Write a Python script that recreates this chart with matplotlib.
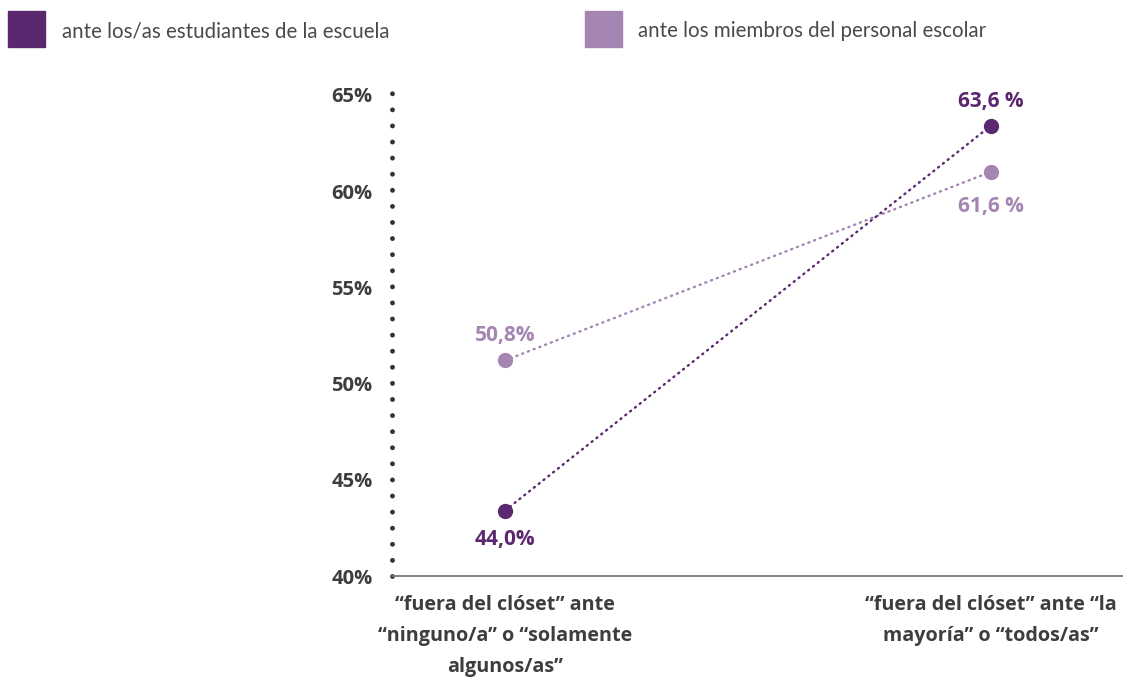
import matplotlib
matplotlib.use('Agg')

import matplotlib.pyplot as plt
from matplotlib.patches import Rectangle

# data
categories = ['\u201cfuera del cl\u00f3set\u201d ante\n\u201cninguno/a\u201d o \u201csolamente\nalgunos/as\u201d',
              '\u201cfuera del cl\u00f3set\u201d ante \u201cla\nmayor\u00eda\u201d o \u201ctodos/as\u201d']
series_names = ['ante los/as estudiantes de la escuela',
                'ante los miembros del personal escolar']
estudiantes = [43.4, 63.4]
personal = [51.2, 61.0]
labels_estudiantes = ['44,0%', '63,6 %']
labels_personal = ['50,8%', '61,6 %']
yticks = [40, 45, 50, 55, 60, 65]

dark = '#5b2870'
light = '#a585b1'
grey = '#3d3d3d'
num_font = 'Open Sans'

W, H = 1123, 687
fig = plt.figure(figsize=(W / 100, H / 100), dpi=100)
# axes box in pixels: x 392..1123, y 90..576
ax = fig.add_axes([392 / W, 1 - 576 / H, (W - 392) / W, (576 - 90) / H])

x = [0, 1]
ax.plot(x, personal, color=light, lw=1.7, ls=(0, (0.5, 2.1)), dash_capstyle='round',
        marker='o', ms=11, markeredgewidth=0, zorder=3)
ax.plot(x, estudiantes, color=dark, lw=1.7, ls=(0, (0.5, 2.1)), dash_capstyle='round',
        marker='o', ms=11, markeredgewidth=0, zorder=4)

# value labels
lab_kw = dict(textcoords='offset points', ha='center', va='center', fontsize=15,
              fontweight='bold', family=num_font)
ax.annotate(labels_personal[0], (x[0], personal[0]), xytext=(0, 18), color=light, **lab_kw)
ax.annotate(labels_estudiantes[0], (x[0], estudiantes[0]), xytext=(0, -21), color=dark, **lab_kw)
ax.annotate(labels_estudiantes[1], (x[1], estudiantes[1]), xytext=(0, 17), color=dark, **lab_kw)
ax.annotate(labels_personal[1], (x[1], personal[1]), xytext=(0, -25), color=light, **lab_kw)

ax.set_xlim(-0.2325, 1.2716)
ax.set_ylim(40, 65.25)
ax.set_yticks(yticks)
ax.set_yticklabels(['%d%%' % t for t in yticks], family=num_font, fontweight='bold',
                   fontsize=14.5, color=grey)
ax.tick_params(axis='y', length=0, pad=14)
ax.set_xticks(x)
ax.set_xticklabels(categories, family=num_font, fontweight='bold', fontsize=14.2,
                   color=grey, linespacing=1.72)
ax.tick_params(axis='x', length=0, pad=14)

for s in ['top', 'right']:
    ax.spines[s].set_visible(False)
ax.spines['bottom'].set_color('#777777')
ax.spines['bottom'].set_linewidth(1.3)
ax.spines['left'].set_color('#333333')
ax.spines['left'].set_linewidth(3.5)
ax.spines['left'].set_linestyle((0, (0.01, 3.3)))
ax.spines['left'].set_capstyle('round')

# legend drawn by hand
for (lx, tx), name, col in zip([(8, 62), (585, 638)], series_names, [dark, light]):
    fig.patches.append(Rectangle((lx / W, 1 - 47 / H), 37 / W, 36 / H,
                                 transform=fig.transFigure, color=col))
    fig.text(tx / W, 1 - 31 / H, name, family='Lato', fontweight='normal',
             fontsize=14.8, color='#4a4a4a', va='center', ha='left')

fig.savefig('out.png', dpi=100)
